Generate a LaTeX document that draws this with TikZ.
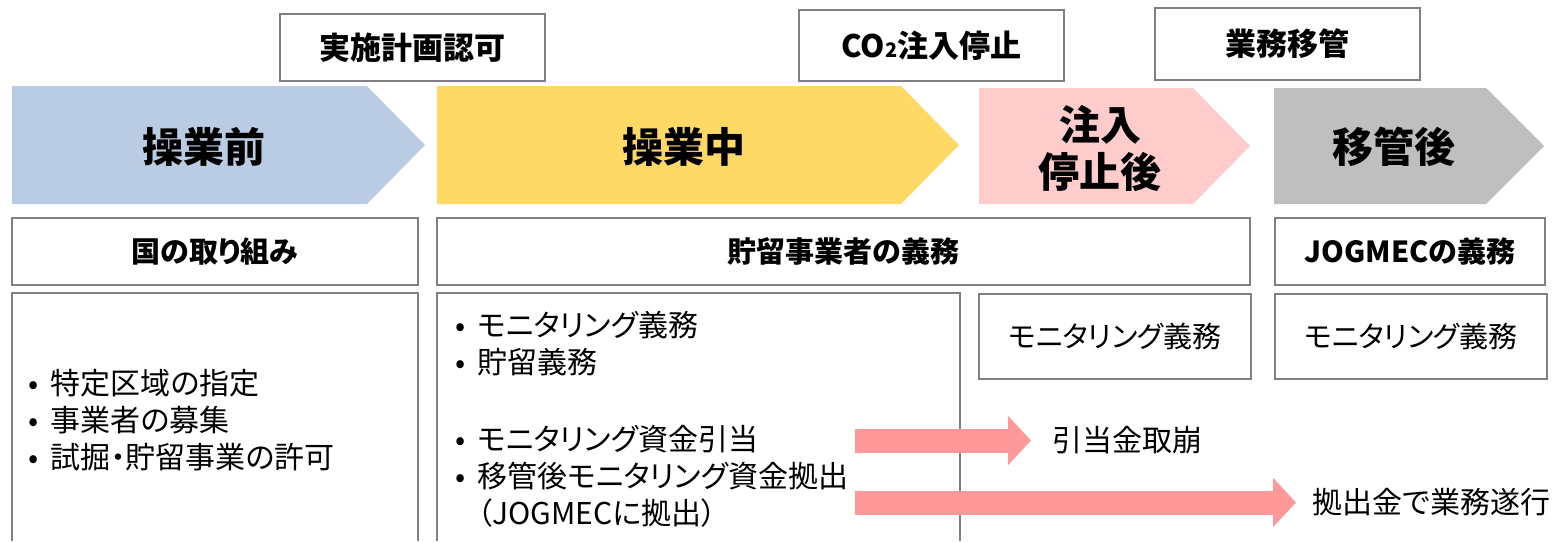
\documentclass[tikz,border=0pt]{standalone}
\usepackage{fontspec}
\setmainfont{Noto Sans CJK JP}[RawFeature=+palt]
\usetikzlibrary{arrows.meta}
\definecolor{phasepre}{HTML}{BACCE3}
\definecolor{phaseop}{HTML}{FFD966}
\definecolor{phasestop}{HTML}{FFCCCC}
\definecolor{phasepost}{HTML}{BFBFBF}
\definecolor{boxline}{HTML}{808080}
\definecolor{flow}{HTML}{FF9999}
\newcommand{\bul}{•\hspace{6pt}}

\tikzset{
  milebox/.style={draw=boxline, line width=1pt, fill=white, minimum width=132.5pt,
    font=\bfseries\fontsize{15.5}{18}\selectfont},
  headbox/.style={draw=boxline, line width=1pt, minimum height=33.5pt,
    font=\bfseries\fontsize{14.5}{17}\selectfont},
  monbox/.style={draw=boxline, line width=1pt, minimum width=136pt, minimum height=42.5pt,
    font=\fontsize{14.5}{17}\selectfont},
  phaselabel/.style={font=\bfseries\fontsize{20.5}{23.5}\selectfont, align=center},
  listtext/.style={font=\fontsize{15}{18.5}\selectfont, align=left, inner sep=0pt},
  plaintext/.style={font=\fontsize{15}{18}\selectfont, inner sep=0pt},
  fatarrow/.style={draw=flow, line width=12pt, -{Triangle[length=11.5pt,width=24pt]}},
}

\begin{document}
\begin{tikzpicture}[x=0.5pt, y=-0.5pt]

    \useasboundingbox (0,0) rectangle (1562,541);

    % phases
    \fill[phasepre]  (12,86)   -- (367,86)  -- (425,145)  -- (367,204)  -- (12,204)   -- cycle;
    \fill[phaseop]   (437,86)  -- (901,86)  -- (959,145)  -- (901,204)  -- (437,204)  -- cycle;
    \fill[phasestop] (979,88)  -- (1193,88) -- (1250,146) -- (1193,204) -- (979,204)  -- cycle;
    \fill[phasepost] (1274,88) -- (1486,88) -- (1544,146) -- (1486,204) -- (1274,204) -- cycle;
    \node[phaselabel] (pre)  at (204,147)  {操業前};
    \node[phaselabel] (op)   at (684,147)  {操業中};
    \node[phaselabel] (stop) at (1100,148) {注入\\停止後};
    \node[phaselabel] (post) at (1394,147) {移管後};

    % milestones
    \node[milebox, minimum height=33.5pt] (approve)  at (412.5,47.5) {実施計画認可};
    \node[milebox, minimum height=35.5pt] (halt)     at (931.5,45.5) {CO{\fontsize{10}{10}\selectfont 2}注入停止};
    \node[milebox, minimum height=36pt]   (handover) at (1287.5,44)  {業務移管};

    % duties
    \node[headbox, minimum width=203pt]   (govt)     at (215,251.5)    {国の取り組み};
    \node[headbox, minimum width=406.5pt] (operator) at (843.5,251.5)  {貯留事業者の義務};
    \node[headbox, minimum width=135pt]   (jogmec)   at (1410,251.5)   {JOGMECの義務};

    % details
    \draw[boxline, line width=1pt] (12,541) |- (418,293) -- (418,541);
    \draw[boxline, line width=1pt] (437,541) |- (960,293) -- (960,541);
    \node[monbox] (mon1) at (1115,336.5) {モニタリング義務};
    \node[monbox] (mon2) at (1411,336.5) {モニタリング義務};

    \node[listtext, anchor=west] (govtlist) at (28,420)
      {\bul 特定区域の指定\\\bul 事業者の募集\\\bul 試掘・貯留事業の許可};
    \node[listtext, anchor=west] (duty) at (455,344)
      {\bul モニタリング義務\\\bul 貯留義務};
    \node[listtext, anchor=west] (fund) at (455,476)
      {\bul モニタリング資金引当\\\bul 移管後モニタリング資金拠出\\\phantom{\bul}（JOGMECに拠出）};

    % flows
    \coordinate (f1) at (855,440.5);
    \coordinate (f2) at (855,502.5);
    \node[plaintext, anchor=west] (withdraw) at (1052,440.5) {引当金取崩};
    \node[plaintext, anchor=west] (spend)    at (1312,502.5) {拠出金で業務遂行};
    \draw[fatarrow] (f1) -- ([xshift=-10.5pt]withdraw.west);
    \draw[fatarrow] (f2) -- ([xshift=-8pt]spend.west);

\end{tikzpicture}
\end{document}
